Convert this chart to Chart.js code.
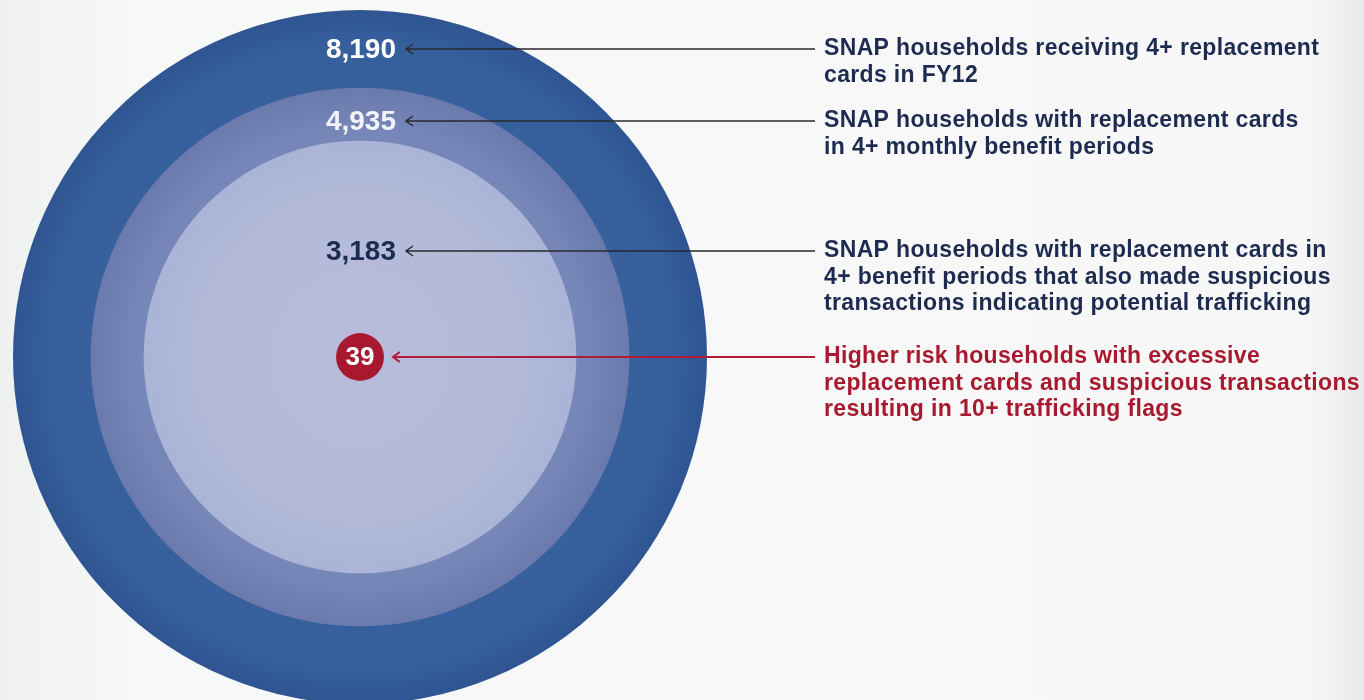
<!DOCTYPE html>
<html>
<head>
<meta charset="utf-8">
<script src="https://cdn.jsdelivr.net/npm/chart.js@4.4.1/dist/chart.umd.min.js"></script>
<style>
  html, body { margin: 0; padding: 0; }
  body {
    width: 1364px; height: 700px; overflow: hidden;
    background: linear-gradient(90deg, #eff0f0 0%, #f7f8f8 10%, #f8f8f8 50%, #f7f7f7 96%, #e8e9e9 100%);
  }
  #wrap { position: relative; width: 1364px; height: 700px; }
</style>
</head>
<body>
<div id="wrap"><canvas id="ringsChart"></canvas></div>
<script>
// data
const categories = [
    ['SNAP households receiving 4+ replacement', 'cards in FY12'],
    ['SNAP households with replacement cards', 'in 4+ monthly benefit periods'],
    ['SNAP households with replacement cards in', '4+ benefit periods that also made suspicious', 'transactions indicating potential trafficking'],
    ['Higher risk households with excessive', 'replacement cards and suspicious transactions', 'resulting in 10+ trafficking flags']
];
const households = [8190, 4935, 3183, 39];
const valueLabels = ['8,190', '4,935', '3,183', '39'];

// styling
const maxRadius = 347;               // pixel radius of the largest circle (area ~ value)
const labelLift = [308, 236, 106, 0]; // label height above the common centre
const navy = '#1d2b51';
const red = '#a8192f';
const FONT = '"Liberation Sans", Arial, sans-serif';
const flatFills = ['#355e9b', '#7585b6', '#b4bad9', red];

function fillFor(context) {
    const i = context.dataIndex;
    const chart = context.chart;
    if (i === 3) return red;
    const xs = chart.scales.x, ys = chart.scales.y;
    if (!xs || !ys) return flatFills[i];
    const px = xs.getPixelForValue(0), py = ys.getPixelForValue(0);
    const r = maxRadius * Math.sqrt(households[i] / households[0]);
    if (!isFinite(px) || !isFinite(py)) return flatFills[i];
    const g = chart.ctx.createRadialGradient(px, py, 0, px, py, r);
    if (i === 0) { g.addColorStop(0, '#3a64a2'); g.addColorStop(0.9, '#365f9c'); g.addColorStop(1, '#2f5592'); }
    else if (i === 1) { g.addColorStop(0, '#8190c0'); g.addColorStop(0.85, '#7786b8'); g.addColorStop(1, '#6b7aac'); }
    else { g.addColorStop(0, '#b8bcdc'); g.addColorStop(0.7, '#b4bad9'); g.addColorStop(1, '#a9b4d7'); }
    return g;
}

const annotate = {
    id: 'annotate',
    afterDatasetsDraw(chart) {
        const c = chart.ctx;
        const meta = chart.getDatasetMeta(0);
        const cx = meta.data[0].x, cy = meta.data[0].y;
        const textX = 824, lineEnd = 815, lineH = 26.5;
        c.save();
        households.forEach((v, i) => {
            const y = cy - labelLift[i];
            let startX;
            c.textBaseline = 'middle';
            c.letterSpacing = '0px';
            if (i === 3) {
                c.font = 'bold 26px ' + FONT;
                c.fillStyle = '#ffffff';
                c.textAlign = 'center';
                c.fillText(valueLabels[i], cx, y + 1);
                startX = cx + meta.data[i].options.radius + 9;
            } else {
                c.font = 'bold 28px ' + FONT;
                c.fillStyle = i === 2 ? navy : (i === 1 ? '#f2f4fa' : '#ffffff');
                c.textAlign = 'right';
                c.fillText(valueLabels[i], 396, y + 1);
                startX = 406;
            }
            // leader line with open arrow head
            c.strokeStyle = i === 3 ? '#b01c35' : '#2a2a2e';
            c.lineWidth = i === 3 ? 2 : 1.5;
            c.beginPath();
            c.moveTo(startX, y);
            c.lineTo(lineEnd, y);
            c.moveTo(startX + 7, y - 5);
            c.lineTo(startX, y);
            c.lineTo(startX + 7, y + 5);
            c.stroke();
            // description text
            c.font = 'bold 23px ' + FONT;
            c.letterSpacing = '0.35px';
            c.fillStyle = i === 3 ? red : navy;
            c.textAlign = 'left';
            categories[i].forEach((line, k) => {
                c.fillText(line, textX, y + k * lineH);
            });
        });
        c.restore();
    }
};

const ctx = document.getElementById('ringsChart').getContext('2d');
const ringsChart = new Chart(ctx, {
    type: 'bubble',
    data: {
        datasets: [{
            label: 'Households',
            data: households.map(v => ({ x: 0, y: 0, r: maxRadius * Math.sqrt(v / households[0]) })),
            backgroundColor: fillFor,
            borderWidth: 0,
            hoverRadius: 0,
            clip: false
        }]
    },
    options: {
        responsive: true,
        maintainAspectRatio: false,
        animation: false,
        events: [],
        layout: { autoPadding: false, padding: { left: 0, right: 644, top: 14, bottom: 0 } },
        scales: {
            x: { display: false, min: -1, max: 1 },
            y: { display: false, min: -1, max: 1 }
        },
        plugins: {
            legend: { display: false },
            tooltip: { enabled: false }
        }
    },
    plugins: [annotate]
});
</script>
</body>
</html>
